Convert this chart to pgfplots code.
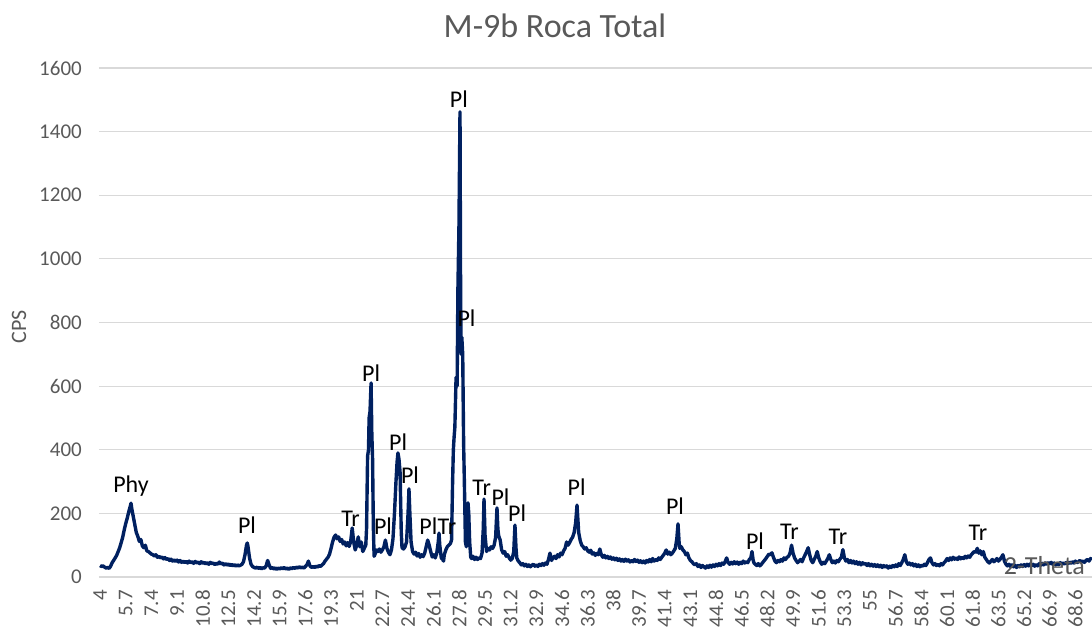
\documentclass[border=0pt]{standalone}
\usepackage{pgfplots}
\pgfplotsset{compat=1.18}
\usepackage{pgfplotstable}
\usepackage{fontspec}
\setmainfont{Carlito}
\definecolor{navy}{RGB}{0,32,96}
\definecolor{txtgray}{RGB}{89,89,89}
\definecolor{gridgray}{RGB}{217,217,217}
\pgfplotstableread{
x y
4.0 36
4.1 33
4.2 35
4.3 31
4.4 28
4.5 30
4.6 27
4.7 34
4.8 45
4.9 52
5.0 60
5.1 68
5.2 80
5.3 92
5.4 108
5.5 125
5.6 148
5.7 168
5.8 185
5.9 205
6.0 222
6.05 232
6.1 215
6.2 190
6.3 165
6.4 140
6.5 128
6.6 112
6.7 118
6.8 98
6.9 92
7.0 100
7.1 82
7.2 80
7.3 76
7.4 72
7.5 70
7.6 66
7.7 70
7.8 62
7.9 65
8.0 60
8.1 63
8.2 57
8.3 61
8.4 55
8.5 58
8.6 52
8.7 56
8.8 50
8.9 54
9.0 49
9.1 53
9.2 47
9.3 52
9.4 46
9.5 50
9.6 45
9.7 49
9.8 44
9.9 50
10.0 45
10.1 48
10.2 43
10.3 49
10.4 44
10.5 47
10.6 42
10.7 48
10.8 43
10.9 46
11.0 41
11.1 45
11.2 40
11.3 46
11.4 42
11.5 44
11.6 39
11.7 43
11.8 40
11.9 47
12.0 41
12.1 44
12.2 38
12.3 42
12.4 37
12.5 41
12.6 36
12.7 40
12.8 35
12.9 39
13.0 34
13.1 38
13.2 35
13.3 37
13.4 40
13.5 48
13.6 70
13.7 100
13.75 107
13.8 95
13.9 60
14.0 40
14.1 33
14.2 30
14.3 28
14.4 31
14.5 27
14.6 30
14.7 26
14.8 29
14.9 28
15.0 35
15.1 52
15.2 38
15.3 27
15.4 30
15.5 25
15.6 29
15.7 24
15.8 28
15.9 25
16.0 29
16.1 26
16.2 30
16.3 25
16.4 28
16.5 24
16.6 29
16.7 26
16.8 30
16.9 27
17.0 31
17.1 28
17.2 32
17.3 29
17.4 31
17.5 28
17.6 33
17.7 38
17.8 50
17.9 35
18.0 30
18.1 33
18.2 30
18.3 34
18.4 31
18.5 36
18.6 33
18.7 38
18.8 42
18.9 50
19.0 56
19.1 62
19.2 72
19.3 90
19.4 110
19.5 125
19.6 132
19.7 120
19.8 126
19.9 112
20.0 118
20.1 104
20.2 110
20.3 98
20.4 108
20.5 96
20.6 112
20.7 154
20.8 110
20.9 85
21.0 100
21.1 126
21.2 95
21.3 110
21.4 80
21.5 90
21.6 100
21.65 150
21.72 380
21.78 400
21.82 500
21.88 520
21.95 610
22.0 450
22.05 370
22.1 160
22.15 65
22.2 70
22.3 85
22.4 80
22.5 88
22.6 78
22.7 85
22.8 95
22.9 116
23.0 90
23.1 78
23.2 70
23.3 85
23.4 120
23.5 200
23.6 300
23.67 360
23.73 390
23.8 370
23.87 330
23.95 140
24.0 92
24.1 88
24.2 95
24.3 110
24.4 200
24.46 277
24.52 200
24.6 110
24.7 80
24.8 72
24.9 78
25.0 66
25.1 74
25.2 62
25.3 70
25.4 64
25.5 75
25.6 95
25.7 116
25.8 100
25.9 80
26.0 63
26.1 70
26.2 60
26.3 75
26.4 110
26.45 138
26.5 100
26.6 60
26.7 55
26.75 50
26.8 70
26.9 85
27.0 95
27.1 100
27.2 105
27.28 116
27.35 300
27.4 400
27.45 440
27.5 471
27.58 628
27.65 600
27.7 900
27.77 1100
27.84 1462
27.88 900
27.92 700
27.96 754
28.02 700
28.08 420
28.13 296
28.2 110
28.26 95
28.32 160
28.37 233
28.42 200
28.48 110
28.55 63
28.6 58
28.7 65
28.8 55
28.9 62
29.0 55
29.1 60
29.2 58
29.3 75
29.38 150
29.43 245
29.5 130
29.6 80
29.7 90
29.8 85
29.9 95
30.0 90
30.1 100
30.2 125
30.29 217
30.35 150
30.4 130
30.5 116
30.6 85
30.7 75
30.8 80
30.9 65
31.0 70
31.1 60
31.2 53
31.3 58
31.4 80
31.48 163
31.55 90
31.6 60
31.7 50
31.8 45
31.9 38
32.0 42
32.1 35
32.2 40
32.3 33
32.4 38
32.5 32
32.6 37
32.7 40
32.8 34
32.9 38
33.0 33
33.1 40
33.2 36
33.3 42
33.4 37
33.5 44
33.6 40
33.7 55
33.8 75
33.9 52
34.0 60
34.1 65
34.2 58
34.3 70
34.4 63
34.5 75
34.6 70
34.7 82
34.8 90
34.9 110
35.0 100
35.1 108
35.2 118
35.3 125
35.4 140
35.5 170
35.59 226
35.65 180
35.7 140
35.8 115
35.9 100
36.0 95
36.1 88
36.2 92
36.3 82
36.4 78
36.5 84
36.6 72
36.7 76
36.8 68
36.9 74
37.0 70
37.1 88
37.2 70
37.3 62
37.4 68
37.5 60
37.6 65
37.7 58
37.8 63
37.9 56
38.0 60
38.1 54
38.2 59
38.3 52
38.4 57
38.5 50
38.6 55
38.7 49
38.8 56
38.9 50
39.0 54
39.1 47
39.2 52
39.3 48
39.4 55
39.5 49
39.6 53
39.7 46
39.8 51
39.9 45
40.0 50
40.1 44
40.2 52
40.3 47
40.4 55
40.5 48
40.6 58
40.7 50
40.8 55
40.9 52
41.0 60
41.1 55
41.2 62
41.3 68
41.4 75
41.5 85
41.6 72
41.7 78
41.8 70
41.9 75
42.0 82
42.1 90
42.2 120
42.28 167
42.35 110
42.4 90
42.5 95
42.6 85
42.7 80
42.8 70
42.9 75
43.0 60
43.1 52
43.2 48
43.3 42
43.4 38
43.5 42
43.6 33
43.7 38
43.8 30
43.9 36
44.0 32
44.1 28
44.2 35
44.3 30
44.4 37
44.5 31
44.6 38
44.7 33
44.8 40
44.9 35
45.0 42
45.1 36
45.2 44
45.3 40
45.4 48
45.5 60
45.6 45
45.7 40
45.8 46
45.9 41
46.0 48
46.1 42
46.2 47
46.3 40
46.4 46
46.5 42
46.6 50
46.7 44
46.8 48
46.9 45
47.0 55
47.1 60
47.18 80
47.25 55
47.3 45
47.4 40
47.5 36
47.6 42
47.7 35
47.8 40
47.9 46
48.0 52
48.1 58
48.2 65
48.3 72
48.4 70
48.5 76
48.6 62
48.7 50
48.8 45
48.9 52
49.0 48
49.1 55
49.2 50
49.3 60
49.4 55
49.5 62
49.6 65
49.7 75
49.8 100
49.9 75
50.0 60
50.1 52
50.2 45
50.3 50
50.4 55
50.5 48
50.6 60
50.7 70
50.8 80
50.9 92
51.0 70
51.1 52
51.2 45
51.3 55
51.4 65
51.5 80
51.6 60
51.7 48
51.8 40
51.9 46
52.0 42
52.1 50
52.2 58
52.3 70
52.4 55
52.5 45
52.6 50
52.7 44
52.8 52
52.9 48
53.0 56
53.1 62
53.2 86
53.3 60
53.4 50
53.5 55
53.6 45
53.7 52
53.8 44
53.9 50
54.0 42
54.1 48
54.2 40
54.3 46
54.4 38
54.5 45
54.6 40
54.7 43
54.8 36
54.9 42
55.0 35
55.1 40
55.2 34
55.3 39
55.4 33
55.5 38
55.6 32
55.7 37
55.8 30
55.9 36
56.0 31
56.1 35
56.2 28
56.3 34
56.4 30
56.5 36
56.6 32
56.7 38
56.8 33
56.9 42
57.0 36
57.1 45
57.2 55
57.3 70
57.4 48
57.5 40
57.6 44
57.7 38
57.8 42
57.9 35
58.0 40
58.1 33
58.2 38
58.3 32
58.4 37
58.5 34
58.6 40
58.7 36
58.8 45
58.9 55
59.0 60
59.1 45
59.2 38
59.3 42
59.4 36
59.5 40
59.6 35
59.7 42
59.8 38
59.9 45
60.0 50
60.1 58
60.2 52
60.3 60
60.4 54
60.5 62
60.6 56
60.7 60
60.8 55
60.9 63
61.0 57
61.1 62
61.2 58
61.3 65
61.4 60
61.5 66
61.6 62
61.7 70
61.8 75
61.9 80
62.0 78
62.1 90
62.2 75
62.3 82
62.4 70
62.5 80
62.6 62
62.7 55
62.8 48
62.9 44
63.0 50
63.1 55
63.2 48
63.3 52
63.4 58
63.5 50
63.6 55
63.7 62
63.8 70
63.9 50
64.0 40
64.1 35
64.2 40
64.3 33
64.4 38
64.5 32
64.6 37
64.7 30
64.8 36
64.9 32
65.0 38
65.1 33
65.2 39
65.3 34
65.4 40
65.5 35
65.6 41
65.7 36
65.8 40
65.9 34
66.0 39
66.1 35
66.2 42
66.3 37
66.4 43
66.5 38
66.6 44
66.7 40
66.8 45
66.9 41
67.0 46
67.1 40
67.2 44
67.3 38
67.4 43
67.5 39
67.6 45
67.7 40
67.8 44
67.9 41
68.0 46
68.1 42
68.2 47
68.3 43
68.4 48
68.5 44
68.6 50
68.7 45
68.8 48
68.9 52
69.0 47
69.1 50
69.2 46
69.3 52
69.4 55
69.5 50
69.6 58
69.7 55
}\xrd

\begin{document}
\begin{tikzpicture}[x=1pt,y=1pt]
\path[use as bounding box] (0,0) rectangle (1092,631);
\node[anchor=base, text=txtgray, font=\fontsize{34}{40}\selectfont] at (555,593) {M-9b Roca Total};
\begin{axis}[
  at={(99pt,54pt)}, anchor=south west,
  scale only axis, width=993pt, height=509pt,
  xmin=3.93, xmax=69.7, ymin=0, ymax=1600,
  axis x line*=bottom, axis y line*=left,
  x axis line style={draw=gridgray, line width=1.2pt},
  y axis line style={draw=none},
  major tick length=0pt,
  ymajorgrids, major grid style={draw=gridgray, line width=1.2pt},
  ytick={0,200,400,600,800,1000,1200,1400,1600},
  /pgf/number format/1000 sep={},
  /pgf/number format/assume math mode=true,
  yticklabel style={font=\fontsize{21}{25}\selectfont, text=txtgray, inner sep=0pt, anchor=east, xshift=-17pt},
  xtick={4,5.7,7.4,9.1,10.8,12.5,14.2,15.9,17.6,19.3,21,22.7,24.4,26.1,27.8,29.5,31.2,32.9,34.6,36.3,38,39.7,41.4,43.1,44.8,46.5,48.2,49.9,51.6,53.3,55,56.7,58.4,60.1,61.8,63.5,65.2,66.9,68.6},
  xticklabels={4,5.7,7.4,9.1,10.8,12.5,14.2,15.9,17.6,19.3,21,22.7,24.4,26.1,27.8,29.5,31.2,32.9,34.6,36.3,38,39.7,41.4,43.1,44.8,46.5,48.2,49.9,51.6,53.3,55,56.7,58.4,60.1,61.8,63.5,65.2,66.9,68.6},
  xticklabel style={font=\fontsize{21}{25}\selectfont, text=txtgray, inner sep=0pt, yshift=-13pt, rotate=90, anchor=east},
  ylabel={CPS},
  ylabel style={at={(axis description cs:-0.0806,0.491)}, anchor=center, font=\fontsize{22}{26}\selectfont, text=txtgray},
  xlabel={2-Theta},
  xlabel style={at={(axis description cs:0.952,0.0216)}, anchor=center, font=\fontsize{26}{30}\selectfont, text=txtgray},
  clip=false,
]
\addplot[navy, line width=3.4pt, line join=round] table[x=x,y=y] {\xrd};
\begin{scope}[every node/.style={anchor=base, font=\fontsize{24}{28}\selectfont, text=black, inner sep=0pt}]
\node at (axis cs:6.05,267) {Phy};
\node at (axis cs:13.73,138) {Pl};
\node at (axis cs:20.59,160) {Tr};
\node at (axis cs:21.95,613) {Pl};
\node at (axis cs:22.74,135) {Pl};
\node at (axis cs:23.74,399) {Pl};
\node at (axis cs:24.53,295) {Pl};
\node at (axis cs:25.75,135) {Pl};
\node at (axis cs:26.98,135) {Tr};
\node at (axis cs:27.77,1477) {Pl};
\node at (axis cs:28.27,786) {Pl};
\node at (axis cs:29.27,255) {Tr};
\node at (axis cs:30.52,226) {Pl};
\node at (axis cs:31.62,173) {Pl};
\node at (axis cs:35.56,255) {Pl};
\node at (axis cs:42.08,195) {Pl};
\node at (axis cs:47.38,85) {Pl};
\node at (axis cs:49.66,119) {Tr};
\node at (axis cs:52.87,101) {Tr};
\node at (axis cs:62.15,116) {Tr};
\end{scope}
\end{axis}
\end{tikzpicture}
\end{document}
